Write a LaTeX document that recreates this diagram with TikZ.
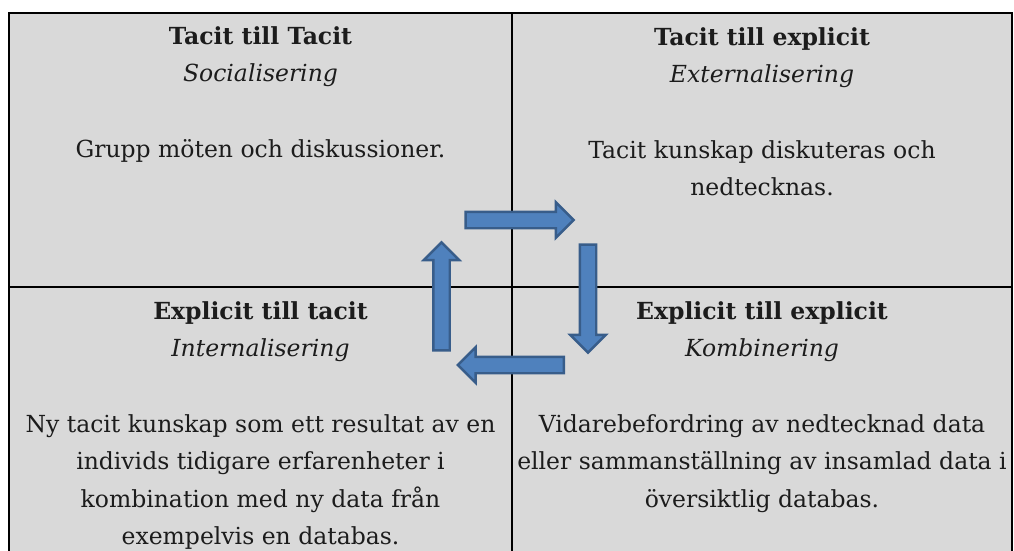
\documentclass[tikz,border=0pt]{standalone}
\usepackage{fontspec}
\setmainfont{DejaVu Serif}
\usetikzlibrary{shapes.arrows, positioning}
\definecolor{cellgrey}{RGB}{217, 217, 217}
\definecolor{arrowblue}{RGB}{79, 129, 189}
\definecolor{arrowedge}{RGB}{56, 93, 138}
\definecolor{inktext}{RGB}{28, 28, 28}

\begin{document}
\begin{tikzpicture}[
    x=1pt, y=-1pt,
    gridline/.style={line width=2.6pt, black},
    cycle arrow/.style={single arrow, draw=arrowedge, fill=arrowblue,
                        line width=2.4pt, minimum width=33pt, minimum height=108pt,
                        single arrow head extend=9.5pt, single arrow tip angle=90,
                        inner xsep=0pt, inner ysep=7pt, anchor=center},
    cell text/.style={anchor=north, align=center, text=inktext, inner sep=0pt,
                      font=\fontsize{23.5}{37.5}\selectfont},
]
\useasboundingbox (0,0) rectangle (1014,551);

% ==================== 表格：四个象限 ====================
\fill[cellgrey] (9,13) rectangle (1012,551);
\draw[gridline] (9,551) -- (9,13) -- (1012,13) -- (1012,551);
\draw[gridline] (512,13) -- (512,551);
\draw[gridline] (9,287) -- (1012,287);

% ==================== 象限文字 ====================
\node[cell text] (soc) at (260.5,26)
    {\textbf{Tacit till Tacit}\\\textit{Socialisering}\\[38pt]
     Grupp möten och diskussioner.};
\node[cell text] (ext) at (762,27)
    {\textbf{Tacit till explicit}\\\textit{Externalisering}\\[38pt]
     Tacit kunskap diskuteras och\\nedtecknas.};
\node[cell text] (int) at (260.5,301)
    {\textbf{Explicit till tacit}\\\textit{Internalisering}\\[38pt]
     Ny tacit kunskap som ett resultat av en\\individs tidigare erfarenheter i\\
     kombination med ny data från\\exempelvis en databas.};
\node[cell text] (komb) at (762,301)
    {\textbf{Explicit till explicit}\\\textit{Kombinering}\\[38pt]
     Vidarebefordring av nedtecknad data\\eller sammanställning av insamlad data i\\
     översiktlig databas.};

% ==================== 中间的循环箭头 ====================
\node[cycle arrow] (toext)  at (515.5,220) {};
\node[cycle arrow, rotate=-90] (tokomb) at (588,294.5) {};
\node[cycle arrow, rotate=180, minimum height=106pt] (toint) at (515,365) {};
\node[cycle arrow, rotate=90] (tosoc)  at (441.5,300.5) {};

\end{tikzpicture}
\end{document}
